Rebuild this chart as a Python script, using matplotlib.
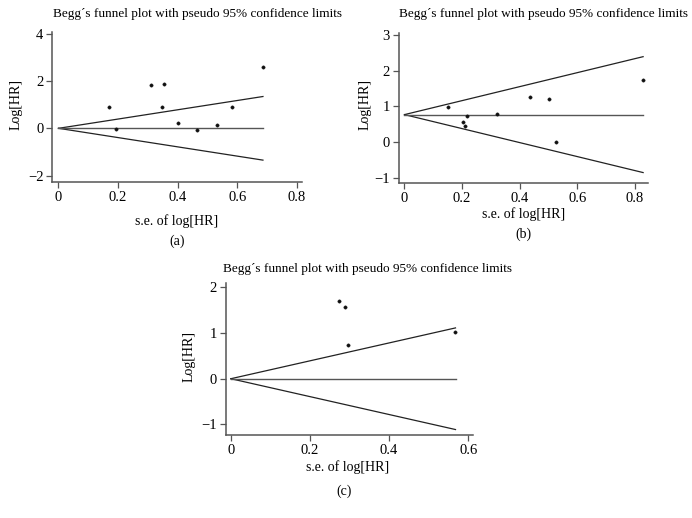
import numpy as np
import matplotlib.pyplot as plt

plt.rcParams['font.family'] = ['Liberation Serif', 'DejaVu Serif']

W, H = 692, 518

# panel (a)
se_a = [0.171, 0.193, 0.312, 0.353, 0.347, 0.402, 0.464, 0.532, 0.583, 0.686]
hr_a = [0.90, -0.04, 1.82, 1.89, 0.89, 0.21, -0.07, 0.14, 0.89, 2.61]
lim_se_a = [0.0, 0.686]
upper_a = [0.0, 1.345]
lower_a = [0.0, -1.345]
center_a = [0.0, 0.0]

# panel (b)
se_b = [0.150, 0.204, 0.210, 0.216, 0.320, 0.434, 0.502, 0.525, 0.826]
hr_b = [0.97, 0.575, 0.46, 0.74, 0.80, 1.265, 1.22, 0.0, 1.74]
lim_se_b = [0.0, 0.828]
upper_b = [0.77, 2.39]
lower_b = [0.77, -0.85]
center_b = [0.77, 0.77]

# panel (c)
se_c = [0.273, 0.288, 0.297, 0.567]
hr_c = [1.71, 1.58, 0.74, 1.02]
lim_se_c = [0.0, 0.568]
upper_c = [0.0, 1.113]
lower_c = [0.0, -1.113]
center_c = [0.0, 0.0]

xticks_a = [0, 0.2, 0.4, 0.6, 0.8]
yticks_a = [-2, 0, 2, 4]
xticks_b = [0, 0.2, 0.4, 0.6, 0.8]
yticks_b = [-1, 0, 1, 2, 3]
xticks_c = [0, 0.2, 0.4, 0.6]
yticks_c = [-1, 0, 1, 2]

title = "Begg\u00b4s funnel plot with pseudo 95% confidence limits"


def fx(px):
    return px / W


def fy(py):
    return 1 - py / H


def funnel(fig, box, xlim, ylim, se, hr, lse, up, lo, ce, xt, yt):
    l, t, r, b = box
    ax = fig.add_axes([fx(l), fy(b), (r - l) / W, (b - t) / H])
    ax.plot(lse, up, color="#222222", lw=0.9)
    ax.plot(lse, lo, color="#222222", lw=0.9)
    ax.plot(lse, ce, color="#555555", lw=1.0)
    ax.plot(se, hr, 'o', color="#111111", ms=2.4, mec="#111111", mew=0.3)
    ax.set_xlim(xlim); ax.set_ylim(ylim)
    ax.set_xticks(xt); ax.set_yticks(yt)
    ax.set_xticklabels([f"{v:g}" for v in xt])
    ax.set_yticklabels([f"{v:g}".replace("-", "\u2212") for v in yt])
    for s in ["top", "right"]:
        ax.spines[s].set_visible(False)
    for s in ["left", "bottom"]:
        ax.spines[s].set_color("#555555")
        ax.spines[s].set_linewidth(1.1)
    ax.tick_params(direction="out", length=4, width=0.9, color="#555555",
                   labelsize=10.5, pad=2.5)
    return ax


fig = plt.figure(figsize=(6.92, 5.18), dpi=100)

funnel(fig, (52.3, 32.3, 301.7, 182.0), (-0.0208, 0.816), (-2.27, 4.06),
       se_a, hr_a, lim_se_a, upper_a, lower_a, center_a, xticks_a, yticks_a)
funnel(fig, (399.0, 32.7, 648.3, 183.3), (-0.019, 0.846), (-1.15, 3.06),
       se_b, hr_b, lim_se_b, upper_b, lower_b, center_b, xticks_b, yticks_b)
funnel(fig, (225.7, 283.3, 473.3, 434.7), (-0.013, 0.613), (-1.226, 2.09),
       se_c, hr_c, lim_se_c, upper_c, lower_c, center_c, xticks_c, yticks_c)

# titles
fig.text(fx(53.3), fy(14), title, fontsize=9.5, ha="left", va="center")
fig.text(fx(399), fy(14), title, fontsize=9.5, ha="left", va="center")
fig.text(fx(222.7), fy(269), title, fontsize=9.5, ha="left", va="center")

# axis labels
for x, y in [(177, 220.7), (523.5, 214), (347.3, 467)]:
    fig.text(fx(x), fy(y), "s.e. of log[HR]", fontsize=10, ha="center", va="center")
for x, y in [(16, 105), (365, 105), (189, 356)]:
    fig.text(fx(x), fy(y), "Log[HR]", fontsize=10, ha="center", va="center",
             rotation=90)

# panel letters
for x, y, s in [(177, 241.5, "(a)"), (523.5, 234, "(b)"), (344.3, 491, "(c)")]:
    fig.text(fx(x), fy(y), s, fontsize=10, ha="center", va="center")

fig.savefig("out.png", dpi=100)
